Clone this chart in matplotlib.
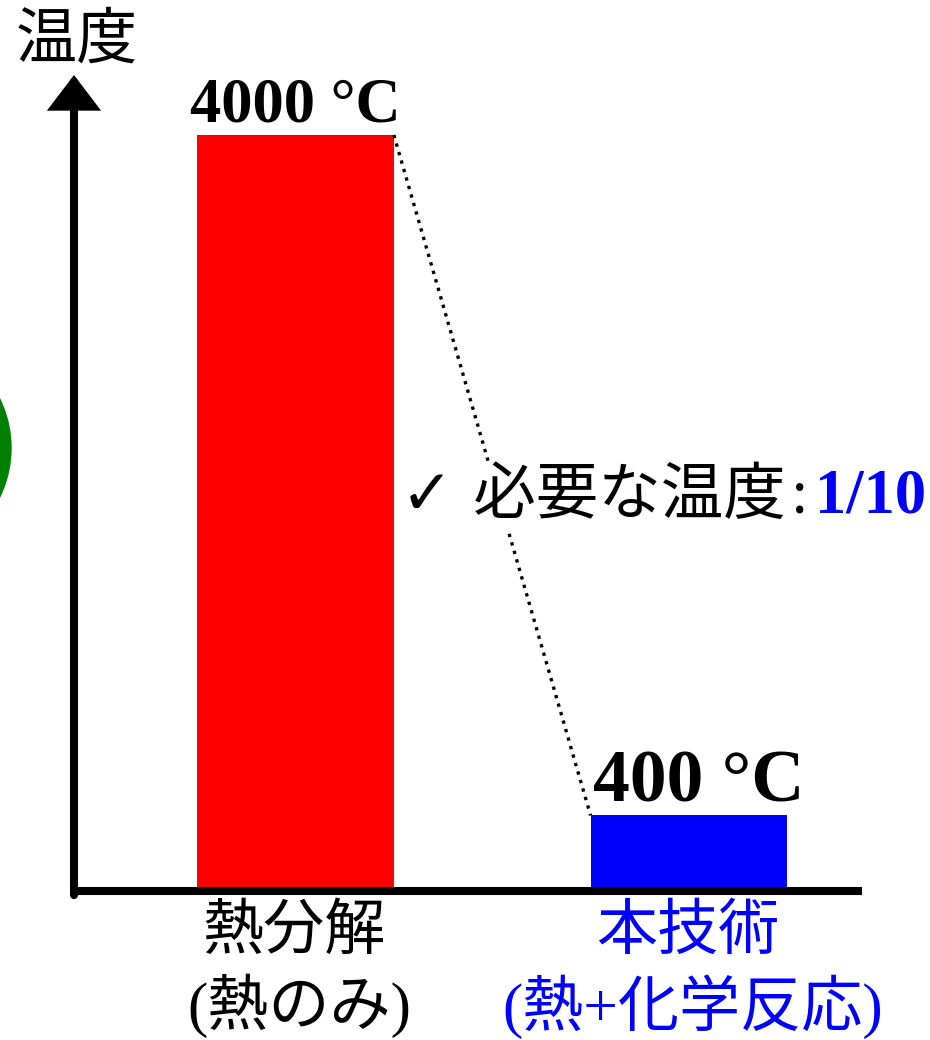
import matplotlib
matplotlib.use('Agg')
import matplotlib.pyplot as plt
from matplotlib.patches import Circle

# temperature needed by each method
methods = ['熱分解', '本技術']
notes = ['(熱のみ)', '(熱+化学反応)']
temps = [4000, 400]

bar_colors = ['#ff0000', '#0000ff']
text_colors = ['black', '#0000ff']
value_sizes = [45, 53]
value_dx = [0, 7]

plt.rcParams['font.family'] = ['Noto Sans CJK JP', 'DejaVu Sans']
serif_cjk = ['Liberation Serif', 'Noto Sans CJK JP']

W, H = 930, 1040
fig = plt.figure(figsize=(W / 100, H / 100), dpi=100)
ax = fig.add_axes([74 / W, 149 / H, 788 / W, 816 / H])

x = [0, 1]
w = 0.5
ax.bar(x, temps, width=w, color=bar_colors, zorder=1)
ax.set_xlim(-0.563, 1.44)
ax.set_ylim(0, temps[0] * 816 / 756)

# axes: thick bottom line, left line drawn as an arrow
for s in ['top', 'right', 'left']:
    ax.spines[s].set_visible(False)
ax.spines['bottom'].set_linewidth(5.8)
ax.spines['bottom'].set_capstyle('butt')
ax.set_xticks([])
ax.set_yticks([])
ax.annotate('', xy=(0, 1), xycoords='axes fraction', xytext=(0, -0.005),
            textcoords='axes fraction',
            arrowprops=dict(arrowstyle='-|>,head_length=0.5,head_width=0.38',
                            mutation_scale=36, lw=5.8, color='black',
                            shrinkA=0, shrinkB=0, joinstyle='miter'),
            annotation_clip=False)

# dotted guide between the two bar tops
ax.plot([x[0] + w / 2, x[1] - w / 2], temps, ls=':', color='black', lw=2.4,
        zorder=2, clip_on=False)

# value labels above bars
for xi, t, fs, dx in zip(x, temps, value_sizes, value_dx):
    ax.annotate(f'{t} °C', xy=(xi, t), xytext=(dx, 10), textcoords='offset points',
                ha='center', va='baseline', fontsize=fs, fontweight='bold',
                family='Liberation Serif', annotation_clip=False)

# category labels under the axis
for xi, m, n, c in zip(x, methods, notes, text_colors):
    ax.annotate(m, xy=(xi, 0), xycoords=('data', 'axes fraction'),
                xytext=(-1, -29), textcoords='offset points', ha='center',
                va='center', fontsize=44, color=c, annotation_clip=False)
    ax.annotate(n, xy=(xi, 0), xycoords=('data', 'axes fraction'),
                xytext=(3, -83), textcoords='offset points', ha='center',
                va='center', fontsize=44, color=c, family=serif_cjk,
                annotation_clip=False)

fig.text(77 / W, 1 - 40 / H, '温度', ha='center', va='center', fontsize=44)

# ratio note in the middle, over the dotted line
fig.text(401 / W, 1 - 497 / H, '✓ 必要な温度', ha='left', va='center',
         fontsize=45, family=['DejaVu Sans', 'Noto Sans CJK JP'],
         bbox=dict(fc='white', ec='none', pad=2))
fig.text(792 / W, 1 - 497 / H, ':', ha='left', va='center', fontsize=40)
fig.text(815 / W, 1 - 497 / H, f'1/{temps[0] // temps[1]}', ha='left',
         va='center', fontsize=45, fontweight='bold', color='#0000ff',
         family='Liberation Serif')

# edge of a green disc from the neighbouring figure
fig.add_artist(Circle((-1.01, (H - 448) / 100), 1.12, color='#008000',
                      transform=fig.dpi_scale_trans))

fig.savefig('out.png', dpi=100)
